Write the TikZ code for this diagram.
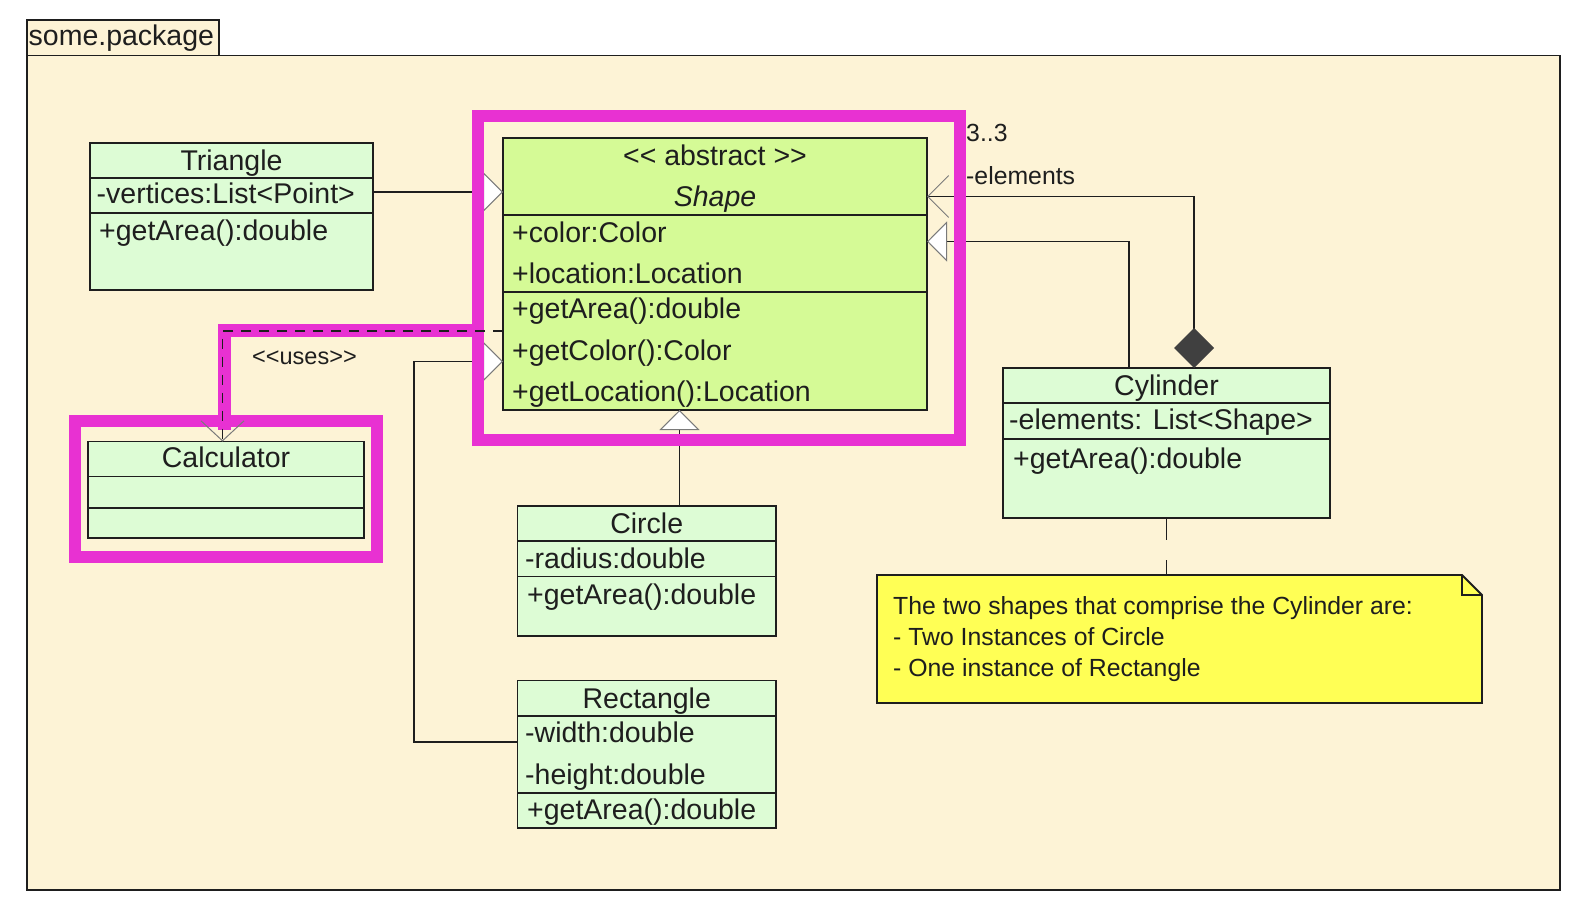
\documentclass[tikz,border=0pt]{standalone}
\usepackage{fontspec}
\setmainfont{Liberation Sans}[Ligatures=TeXOff]
\usetikzlibrary{arrows.meta}
\definecolor{pkgcream}{HTML}{FDF3D6}
\definecolor{clsgreen}{HTML}{DDFCD5}
\definecolor{absgreen}{HTML}{D5FA96}
\definecolor{hilite}{HTML}{E831D2}
\definecolor{noteyellow}{HTML}{FFFF55}
\definecolor{ink}{HTML}{1E1E1E}
\definecolor{tipgray}{HTML}{7A7A7A}
\begin{document}
\begin{tikzpicture}[
    x=1pt, y=-1pt,
    cls/.style={draw=ink, line width=1.8pt, fill=clsgreen, anchor=north west, inner sep=0pt, outer sep=0pt},
    title/.style={anchor=base, inner sep=0pt, text=ink, font=\fontsize{28.5}{34}\selectfont},
    member/.style={anchor=base west, inner sep=0pt, text=ink, font=\fontsize{28.5}{34}\selectfont},
    small/.style={anchor=base west, inner sep=0pt, text=ink, font=\fontsize{24.8}{31}\selectfont},
    sep/.style={draw=ink, line width=1.8pt},
    link/.style={draw=ink, line width=1.6pt},
    gen/.style={link, -{Triangle[color=tipgray, fill=white, line width=1pt, length=20pt, width=40pt]}},
    frame/.style={draw=hilite, line width=12pt}
  ]

  \fill[white] (0,0) rectangle (1584,910);
  \useasboundingbox (0,0) rectangle (1584,910);

  \node[cls, fill=pkgcream, minimum width=1533pt, minimum height=834.5pt] (pkg) at (27,55.5) {};
  \node[cls, fill=pkgcream, anchor=south west, minimum width=192pt, minimum height=35.5pt] (tab) at (pkg.north west) {};
  \node[member] (tab-name) at (28.5,45) {some.package};

  \node[cls, minimum width=283pt, minimum height=147pt] (tri) at (90,143) {};
  \draw[sep] (tri.west |- 0,178) -- (tri.east |- 0,178);
  \draw[sep] (tri.west |- 0,213) -- (tri.east |- 0,213);
  \node[title] (tri-name) at (231.5,170) {Triangle};
  \node[member] (tri-attr) at (96.5,203) {-vertices:List<Point>};
  \node[member] (tri-op) at (99,240) {+getArea():double};

  \node[cls, fill=absgreen, minimum width=424pt, minimum height=272pt] (shape) at (503,138) {};
  \draw[sep] (shape.west |- 0,215) -- (shape.east |- 0,215);
  \draw[sep] (shape.west |- 0,292) -- (shape.east |- 0,292);
  \node[title] (shape-st) at (715,165) {<< abstract >>};
  \node[title] (shape-name) at (715,206.5) {\itshape Shape};
  \node[member] (shape-a1) at (512,242.5) {+color:Color};
  \node[member] (shape-a2) at (512,283) {+location:Location};
  \node[member] (shape-o1) at (512,318) {+getArea():double};
  \node[member] (shape-o2) at (512,360) {+getColor():Color};
  \node[member] (shape-o3) at (512,401.5) {+getLocation():Location};

  \node[cls, minimum width=276pt, minimum height=96.5pt] (calc) at (88,441.5) {};
  \draw[sep] (calc.west |- 0,476.5) -- (calc.east |- 0,476.5);
  \draw[sep] (calc.west |- 0,508) -- (calc.east |- 0,508);
  \node[title] (calc-name) at (226,467.5) {Calculator};

  \node[cls, minimum width=258.5pt, minimum height=130pt] (circ) at (517.5,506) {};
  \draw[sep] (circ.west |- 0,541) -- (circ.east |- 0,541);
  \draw[sep] (circ.west |- 0,576.5) -- (circ.east |- 0,576.5);
  \node[title] (circ-name) at (646.75,533.5) {Circle};
  \node[member] (circ-attr) at (525,568) {-radius:double};
  \node[member] (circ-op) at (527,604) {+getArea():double};

  \node[cls, minimum width=258.5pt, minimum height=147.5pt] (rect) at (517.5,680.5) {};
  \draw[sep] (rect.west |- 0,716) -- (rect.east |- 0,716);
  \draw[sep] (rect.west |- 0,793) -- (rect.east |- 0,793);
  \node[title] (rect-name) at (646.75,708) {Rectangle};
  \node[member] (rect-a1) at (525,742) {-width:double};
  \node[member] (rect-a2) at (525,784) {-height:double};
  \node[member] (rect-op) at (527,819.5) {+getArea():double};

  \node[cls, minimum width=327pt, minimum height=150pt] (cyl) at (1003,368) {};
  \draw[sep] (cyl.west |- 0,403) -- (cyl.east |- 0,403);
  \draw[sep] (cyl.west |- 0,439) -- (cyl.east |- 0,439);
  \node[title] (cyl-name) at (1166.5,395) {Cylinder};
  \node[member] (cyl-attr) at (1009,429) {-elements: List<Shape>};
  \node[member] (cyl-op) at (1013,468) {+getArea():double};

  \node[anchor=north west, inner sep=0pt, outer sep=0pt, minimum width=605pt, minimum height=128pt] (note) at (877,575) {};
  \draw[ink, line width=1.8pt, fill=noteyellow] (note.south west) -- (note.north west) -- ([xshift=-20pt]note.north east)
    -- ([yshift=-20pt]note.north east) -- (note.south east) -- cycle;
  \draw[ink, line width=1.2pt] ([xshift=-20pt]note.north east) |- ([yshift=-20pt]note.north east);
  \node[small] (note-l1) at (893,614) {The two shapes that comprise the Cylinder are:};
  \node[small] (note-l2) at (893,645) {- Two Instances of Circle};
  \node[small] (note-l3) at (893,676) {- One instance of Rectangle};

  \draw[gen] (tri.east |- 0,192) -- (shape.west |- 0,192);
  \draw[gen] (rect.west |- 0,742) -| (414,361.5) -- (shape.west |- 0,361.5);
  \draw[gen] (679.5,0 |- circ.north) -- (679.5,0 |- shape.south);
  \draw[gen] (1129,0 |- cyl.north) |- (shape.east |- 0,241.5);
  \draw[link, {Diamond[color=ink!85, fill=ink!85, length=40pt, width=40pt]}-{Straight Barb[color=tipgray, line width=1pt, length=21pt, width=42pt]}]
    (1194,0 |- cyl.north) |- (shape.east |- 0,196.5);
  \node[small] (mult) at (966,141) {3..3};
  \node[small] (role) at (966,184) {-elements};
  \draw[link, dash pattern=on 22pt off 20pt] (cyl.south) -- (cyl.south |- note.north);

  \draw[frame] (478,116) rectangle (960,440);
  \draw[frame] (74.5,421) rectangle (376.5,556.5);
  \draw[frame, line width=13pt] (478,330) -| (224,430);

  \draw[link, dash pattern=on 10pt off 8pt, -{Straight Barb[color=tipgray, line width=1pt, length=20pt, width=43pt]}]
    (shape.west |- 0,331) -| (222.5,0 |- calc.north);
  \node[anchor=base west, inner sep=0pt, text=ink, font=\fontsize{23.5}{28}\selectfont] (uses) at (252,364) {<<uses>>};

\end{tikzpicture}
\end{document}
